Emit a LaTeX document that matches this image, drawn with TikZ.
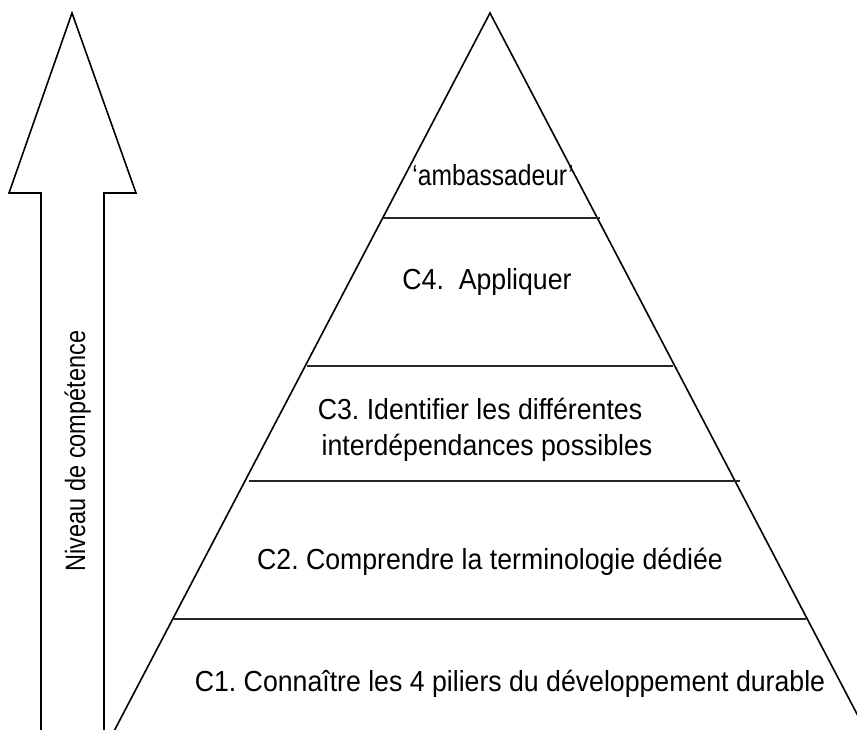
\documentclass[tikz,border=0pt]{standalone}
\usepackage{fontspec}
\setmainfont{Liberation Sans}
\newcommand{\narrowtxt}[2][0.92]{\scalebox{#1}[1]{#2}}
\begin{document}
\frenchspacing
\begin{tikzpicture}[x=1pt,y=-1pt,
  outline/.style={line width=1.6pt,line join=miter},
  tier/.style={line width=1.6pt,draw=black!85},
  lbl/.style={font=\fontsize{29}{35}\selectfont,anchor=base,inner sep=0pt},
]
\useasboundingbox (0,0) rectangle (857,729);
\clip (0,0) rectangle (857,729);
% vertical arrow
\coordinate (tip) at (72,13);
\coordinate (hl) at (9,193);
\coordinate (hr) at (136,193);
\coordinate (sl) at (41,193);
\coordinate (sr) at (104,193);
\coordinate (bl) at (41,735);
\coordinate (br) at (104,735);
\draw[outline] (bl) -- (sl) -- (hl) -- (tip) -- (hr) -- (sr) -- (br);
\node[font=\fontsize{28}{32}\selectfont,rotate=90,anchor=base,inner sep=0pt] (niv) at (85,451) {\narrowtxt[0.84]{Niveau de compétence}};
% pyramid
\coordinate (apex) at (490,13);
\coordinate (pl) at (112,735);
\coordinate (pr) at (868,735);
\draw[outline] (pl) -- (apex) -- (pr);
\coordinate (a1) at (383,218); \coordinate (b1) at (600,218);
\coordinate (a2) at (307,366); \coordinate (b2) at (673,366);
\coordinate (a3) at (249,481); \coordinate (b3) at (740,481);
\coordinate (a4) at (173,619); \coordinate (b4) at (806,619);
\draw[tier] (a1) -- (b1);
\draw[tier] (a2) -- (b2);
\draw[tier] (a3) -- (b3);
\draw[tier] (a4) -- (b4);
\node[lbl,font=\fontsize{29}{30}\selectfont] (amb) at (493,185) {\narrowtxt[0.85]{`ambassadeur'}};
\node[lbl] (c4) at (487,289) {\narrowtxt{C4.\ \ Appliquer}};
\node[lbl] (c3a) at (480,419) {\narrowtxt{C3. Identifier les différentes}};
\node[lbl] (c3b) at (487,455) {\narrowtxt{interdépendances possibles}};
\node[lbl] (c2) at (490,569) {\narrowtxt{C2. Comprendre la terminologie dédiée}};
\node[lbl] (c1) at (510,691) {\narrowtxt{C1. Connaître les 4 piliers du développement durable}};
\end{tikzpicture}
\end{document}
